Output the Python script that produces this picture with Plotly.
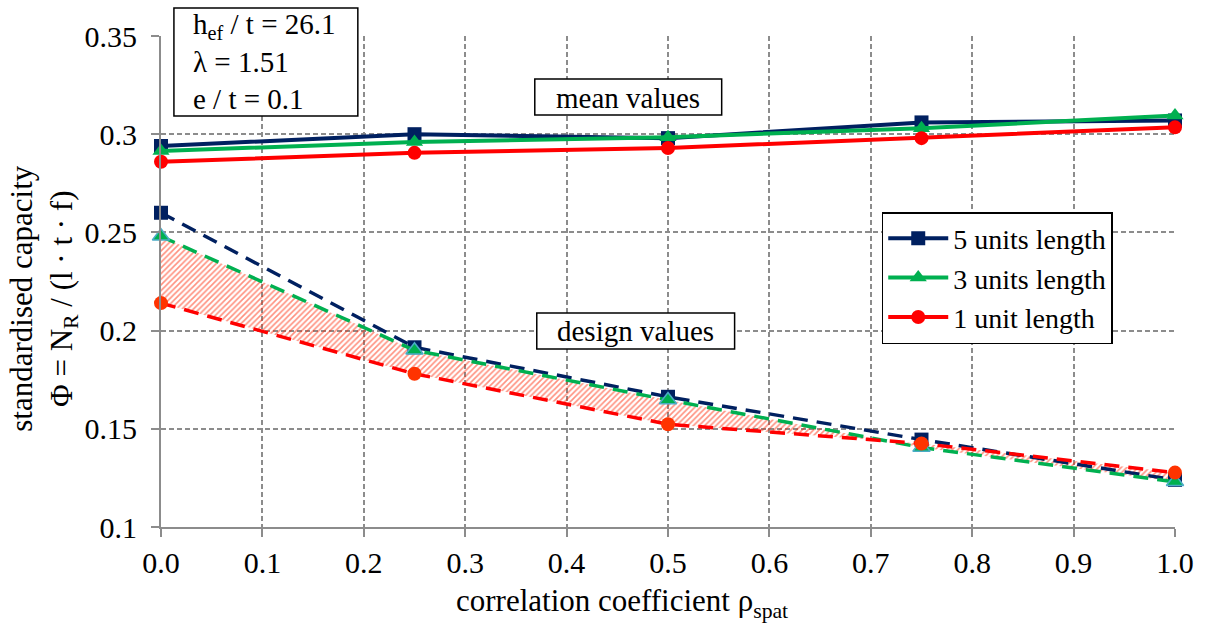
import plotly.graph_objects as go

rho = [0.0, 0.25, 0.5, 0.75, 1.0]
mean_5 = [0.294, 0.300, 0.298, 0.306, 0.307]
mean_3 = [0.2915, 0.296, 0.2985, 0.303, 0.3095]
mean_1 = [0.286, 0.2905, 0.293, 0.298, 0.3035]
design_5 = [0.260, 0.1915, 0.1663, 0.1445, 0.124]
design_3 = [0.248, 0.190, 0.1647, 0.1405, 0.123]
design_1 = [0.214, 0.178, 0.1523, 0.1425, 0.1277]
series_names = ["5 units length", "3 units length", "1 unit length"]
x_ticks = [0.0, 0.1, 0.2, 0.3, 0.4, 0.5, 0.6, 0.7, 0.8, 0.9, 1.0]
x_ticklabels = ["0.0", "0.1", "0.2", "0.3", "0.4", "0.5", "0.6", "0.7", "0.8", "0.9", "1.0"]
y_ticks = [0.1, 0.15, 0.2, 0.25, 0.3, 0.35]
y_ticklabels = ["0.1", "0.15", "0.2", "0.25", "0.3", "0.35"]

NAVY = "#002060"
GREEN = "#00b050"
RED = "#ff0000"
FONT = "Liberation Serif"
FS = 29
FS_TICK = 30
FS_TITLE = 31

W, H = 1206, 625
L, R, T, B = 161, 1181, 36, 527


def px_x(p):
    return (p - L) / (R - L)


def px_y(p):
    return (B - p) / (B - T)


fig = go.Figure()

# hatched area between 3-unit and 1-unit design curves
fig.add_trace(go.Scatter(x=rho, y=design_3, mode="lines", line=dict(width=0),
                         showlegend=False, hoverinfo="skip"))
fig.add_trace(go.Scatter(x=rho, y=design_1, mode="lines", line=dict(width=0),
                         fill="tonexty", fillcolor="rgba(0,0,0,0)",
                         fillpattern=dict(shape="/", fgcolor="#ff2200", bgcolor="rgba(255,255,255,0)",
                                          size=4, solidity=0.4),
                         showlegend=False, hoverinfo="skip"))

dash = "15px,9px"
# design curves
fig.add_trace(go.Scatter(x=rho, y=design_5, mode="lines+markers", showlegend=False,
                         line=dict(color=NAVY, width=3.5, dash=dash),
                         marker=dict(symbol="square", size=14, color=NAVY), cliponaxis=False))
fig.add_trace(go.Scatter(x=rho, y=design_3, mode="lines+markers", showlegend=False,
                         line=dict(color=GREEN, width=3.5, dash=dash),
                         marker=dict(symbol="triangle-up", size=15, color=GREEN,
                                     line=dict(color="#4bacc6", width=1.5)), cliponaxis=False))
fig.add_trace(go.Scatter(x=rho, y=design_1, mode="lines+markers", showlegend=False,
                         line=dict(color=RED, width=3.5, dash=dash),
                         marker=dict(symbol="circle", size=14, color="#ff3300"), cliponaxis=False))

# mean curves
fig.add_trace(go.Scatter(x=rho, y=mean_5, mode="lines+markers", name=series_names[0],
                         line=dict(color=NAVY, width=4),
                         marker=dict(symbol="square", size=14, color=NAVY), cliponaxis=False))
fig.add_trace(go.Scatter(x=rho, y=mean_3, mode="lines+markers", name=series_names[1],
                         line=dict(color=GREEN, width=4),
                         marker=dict(symbol="triangle-up", size=15, color=GREEN), cliponaxis=False))
fig.add_trace(go.Scatter(x=rho, y=mean_1, mode="lines+markers", name=series_names[2],
                         line=dict(color=RED, width=4),
                         marker=dict(symbol="circle", size=14, color=RED), cliponaxis=False))

axis_common = dict(showgrid=True, gridcolor="#8c8c8c", gridwidth=1.5, griddash="5px,3px",
                   showline=True, linecolor="#8c8c8c", linewidth=2,
                   ticks="outside", ticklen=8, tickcolor="#8c8c8c", tickwidth=2,
                   tickfont=dict(family=FONT, size=FS_TICK, color="black"), zeroline=False,
                   mirror=False)

fig.update_xaxes(range=[0, 1], tickvals=x_ticks, ticktext=x_ticklabels, **axis_common)
fig.update_yaxes(range=[0.1, 0.35], tickvals=y_ticks, ticktext=y_ticklabels,
                 ticklabelstandoff=8, **axis_common)

shapes = []
annotations = []

# parameter box
shapes.append(dict(type="rect", xref="paper", yref="paper",
                   x0=px_x(174), x1=px_x(359), y0=px_y(116), y1=px_y(8),
                   line=dict(color="black", width=1.5), fillcolor="white", layer="above"))
annotations.append(dict(xref="paper", yref="paper", x=px_x(191), y=px_y(62),
                        xanchor="left", yanchor="middle", align="left", showarrow=False,
                        text="h<sub>ef</sub> / t = 26.1<br>λ = 1.51<br>e / t = 0.1",
                        font=dict(family=FONT, size=FS, color="black")))

# mean values label
shapes.append(dict(type="rect", xref="paper", yref="paper",
                   x0=px_x(537), x1=px_x(725), y0=px_y(115), y1=px_y(79),
                   line=dict(color="black", width=1.5), fillcolor="white", layer="above"))
annotations.append(dict(xref="paper", yref="paper", x=px_x(631), y=px_y(98),
                        xanchor="center", yanchor="middle", showarrow=False,
                        text="mean values", font=dict(family=FONT, size=FS, color="black")))

# design values label
shapes.append(dict(type="rect", xref="paper", yref="paper",
                   x0=px_x(539), x1=px_x(738), y0=px_y(349), y1=px_y(313),
                   line=dict(color="black", width=1.5), fillcolor="white", layer="above"))
annotations.append(dict(xref="paper", yref="paper", x=px_x(638), y=px_y(331),
                        xanchor="center", yanchor="middle", showarrow=False,
                        text="design values", font=dict(family=FONT, size=FS, color="black")))

# axis titles
annotations.append(dict(xref="paper", yref="paper", x=px_x(625), y=px_y(603),
                        xanchor="center", yanchor="middle", showarrow=False,
                        text="correlation coefficient ρ<sub>spat</sub>",
                        font=dict(family=FONT, size=FS_TITLE, color="black")))
annotations.append(dict(xref="paper", yref="paper", x=px_x(43), y=px_y(299),
                        xanchor="center", yanchor="middle", showarrow=False, textangle=-90,
                        text="standardised capacity<br>Φ = N<sub>R</sub> / (l · t · f)",
                        font=dict(family=FONT, size=FS_TITLE, color="black")))

fig.update_layout(
    width=W, height=H,
    margin=dict(l=L, r=W - R, t=T, b=H - B),
    plot_bgcolor="white", paper_bgcolor="white",
    shapes=shapes, annotations=annotations,
    showlegend=True,
    legend=dict(x=px_x(886), y=px_y(212), xanchor="left", yanchor="top",
                bgcolor="white", bordercolor="black", borderwidth=1.5,
                font=dict(family=FONT, size=28, color="black"),
                itemwidth=60, tracegroupgap=0, traceorder="normal"),
    font=dict(family=FONT, size=FS, color="black"),
)

fig.write_html("out.html", config={"displayModeBar": False},
               post_script="document.body.style.margin='0';document.body.style.padding='0';")
